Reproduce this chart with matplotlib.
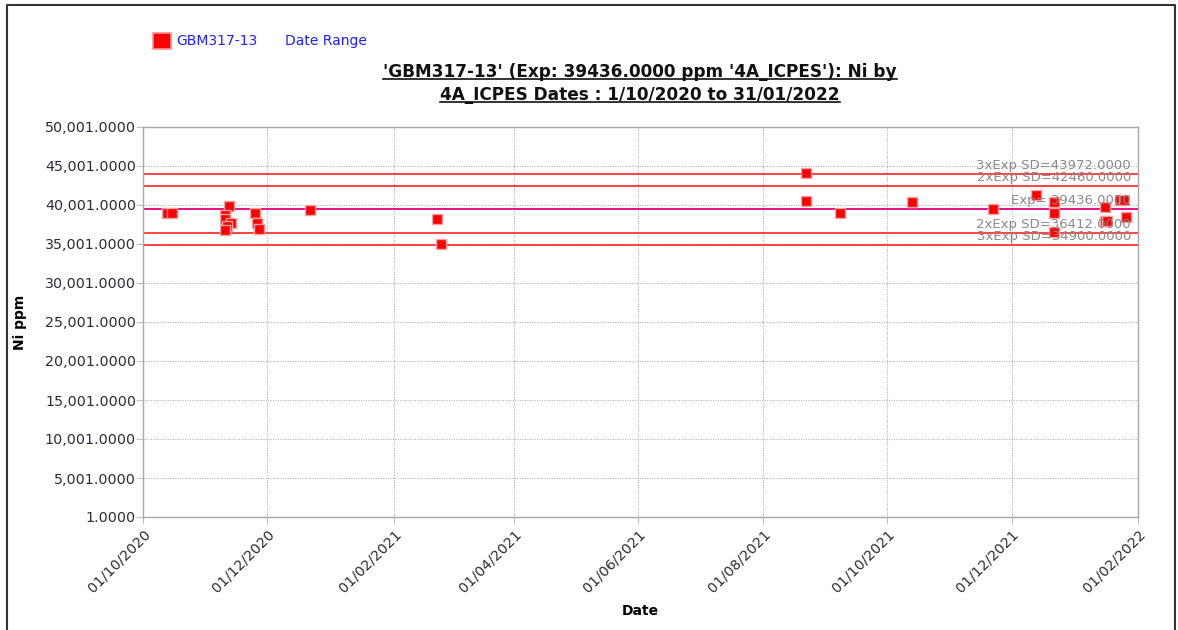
import numpy as np
import pandas as pd
import matplotlib
matplotlib.use('Agg')
import matplotlib.pyplot as plt
import matplotlib.dates as mdates
from matplotlib.lines import Line2D
from matplotlib.patches import Rectangle

# Control sample results, Ni by 4A_ICPES
sample_dates = ['2020-10-13', '2020-10-15', '2020-11-12', '2020-11-10', '2020-11-10',
                '2020-11-13', '2020-11-11', '2020-11-10', '2020-11-25', '2020-11-26',
                '2020-11-27', '2020-12-22', '2021-02-22', '2021-02-24', '2021-08-22',
                '2021-08-22', '2021-09-08', '2021-10-13', '2021-11-22', '2021-12-13',
                '2021-12-22', '2021-12-22', '2021-12-22', '2022-01-16', '2022-01-16',
                '2022-01-17', '2022-01-23', '2022-01-25', '2022-01-26']
ni_ppm = [39012, 38934, 39909, 38717, 38165,
          37652, 37306, 36794, 38934, 37729,
          36884, 39358, 38166, 34960, 44063,
          40551, 39012, 40423, 39448, 41281,
          40423, 38934, 36576, 39705, 37986,
          37986, 40640, 40640, 38498]

exp_value = 39436.0
limit_values = [43972.0, 42460.0, 39436.0, 36412.0, 34900.0]
limit_labels = ['3xExp SD=43972.0000', '2xExp SD=42460.0000', 'Exp= 39436.0000',
                '2xExp SD=36412.0000', '3xExp SD=34900.0000']

y_ticks = np.arange(1, 50002, 5000)
date_start = '2020-10-01'
date_end = '2022-02-01'

title_lines = ["'GBM317-13' (Exp: 39436.0000 ppm '4A_ICPES'): Ni by",
               "4A_ICPES Dates : 1/10/2020 to 31/01/2022"]

plt.rcParams['font.family'] = ['DejaVu Sans']

fig = plt.figure(figsize=(11.78, 6.30), dpi=100)
W, H = 1178, 630
ax = fig.add_axes([143 / W, 1 - 517 / H, 995 / W, 390 / H])

x = pd.to_datetime(sample_dates)

# control limit lines
for val in limit_values:
    col = '#e5007a' if val == exp_value else '#ff3434'
    ax.axhline(val, color=col, lw=1.3, zorder=2)

ax.plot(x, ni_ppm, linestyle='none', marker='s', markersize=7.2,
        markerfacecolor='#ff0000', markeredgecolor='#ffa0a0',
        markeredgewidth=1.0, zorder=4)

for val, lab in zip(limit_values, limit_labels):
    ax.annotate(lab, xy=(1, val), xycoords=('axes fraction', 'data'),
                xytext=(-5, 1.5), textcoords='offset points',
                ha='right', va='bottom', fontsize=9.5, color='#8a8a8a',
                zorder=5)

ax.set_xlim(pd.Timestamp(date_start), pd.Timestamp(date_end))
ax.set_ylim(1, 50001)
ax.set_yticks(y_ticks)
ax.yaxis.set_major_formatter(plt.FuncFormatter(lambda v, p: f'{v:,.4f}'))
ax.xaxis.set_major_locator(mdates.MonthLocator(bymonth=[2, 4, 6, 8, 10, 12]))
ax.xaxis.set_major_formatter(mdates.DateFormatter('%d/%m/%Y'))

ax.grid(True, color='#b8b8b8', linestyle=(0, (1, 1.2)), lw=0.8, zorder=1)
ax.set_axisbelow(True)
ax.tick_params(axis='both', length=5, color='#c0c0c0', labelsize=10.3,
               labelcolor='#2e2a3a', width=0.8)
ax.tick_params(axis='y', pad=0)
ax.tick_params(axis='x', pad=2)
for lab in ax.get_xticklabels():
    lab.set_rotation(45)
    lab.set_ha('right')
    lab.set_rotation_mode('anchor')
for sp in ax.spines.values():
    sp.set_color('#a8a8a8')
    sp.set_linewidth(1.0)

ax.set_ylabel('Ni ppm', fontsize=10, fontweight='bold')
ax.yaxis.set_label_coords((27 - 143) / 995, 0.5)
fig.text(640 / W, 1 - 611 / H, 'Date', ha='center', va='center',
         fontsize=10, fontweight='bold')

# legend entries
fig.patches.append(Rectangle((153 / W, 1 - 49 / H), 18 / W, 16 / H,
                             transform=fig.transFigure, facecolor='#ff0000',
                             edgecolor='#ff9090', lw=1.2))
fig.text(176 / W, 1 - 41 / H, 'GBM317-13', color='#2020ff', fontsize=10,
         va='center', ha='left')
fig.text(285 / W, 1 - 41 / H, 'Date Range', color='#2020ff', fontsize=10,
         va='center', ha='left')

# underlined two line title
title_texts = []
for i, line in enumerate(title_lines):
    t = fig.text(640 / W, 1 - (72 + 23 * i) / H, line, ha='center', va='center',
                 fontsize=12.2, fontweight='bold', color='#111111')
    title_texts.append(t)

fig.canvas.draw()
renderer = fig.canvas.get_renderer()
for t in title_texts:
    bb = t.get_window_extent(renderer)
    y0 = (bb.y0 + 2) / H
    fig.lines.append(Line2D([bb.x0 / W, bb.x1 / W], [y0, y0],
                            transform=fig.transFigure, color='#111111', lw=1.2))

# outer frame
fig.lines.append(Line2D([7 / W, 7 / W, 1175 / W, 1175 / W], [0, 1 - 5 / H, 1 - 5 / H, 0],
                        transform=fig.transFigure, color='#333333', lw=1.5))

fig.savefig('out.png', dpi=100)
